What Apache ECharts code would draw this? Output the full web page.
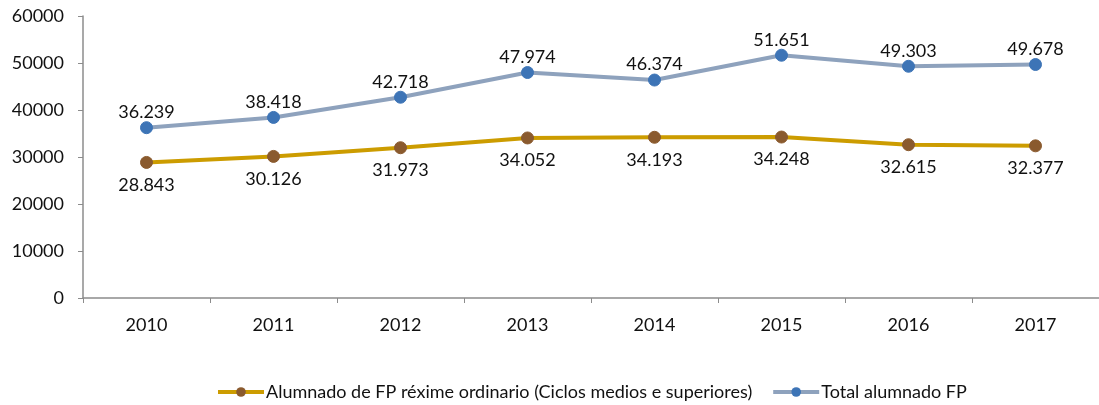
<!DOCTYPE html>
<html>
<head>
<meta charset="utf-8">
<script src="https://cdn.jsdelivr.net/npm/echarts@6/dist/echarts.min.js"></script>
<style>
  html, body { margin: 0; padding: 0; background: #fff; }
  #chart { width: 1099px; height: 405px; }
</style>
</head>
<body>
<div id="chart"></div>
<script>
// datos
const years = ['2010', '2011', '2012', '2013', '2014', '2015', '2016', '2017']
const ordinario = [28843, 30126, 31973, 34052, 34193, 34248, 32615, 32377]
const total = [36239, 38418, 42718, 47974, 46374, 51651, 49303, 49678]
const nameOrdinario = 'Alumnado de FP réxime ordinario (Ciclos medios e superiores)'
const nameTotal = 'Total alumnado FP'

const font = 'Lato, "Open Sans", sans-serif'
const axisColor = '#8c8c8c'

// 36239 -> "36.239"
function fmt(v) {
  return String(v).replace(/\B(?=(\d{3})+(?!\d))/g, '.')
}

const chart = echarts.init(document.getElementById('chart'))
chart.setOption({
  animation: false,
  textStyle: { fontFamily: font },
  legend: {
    data: [nameOrdinario, nameTotal],
    bottom: -1,
    left: 211,
    itemWidth: 46,
    itemHeight: 12,
    itemGap: 19,
    lineStyle: { width: 4 },
    textStyle: { fontSize: 18, color: '#111', fontFamily: font, padding: [0, 0, 0, -3] }
  },
  grid: {
    left: 83,
    top: 16,
    width: 1018,
    bottom: 107
  },
  xAxis: {
    type: 'category',
    data: years,
    boundaryGap: true,
    axisLine: { lineStyle: { color: axisColor, width: 1.5 } },
    axisTick: { show: true, alignWithLabel: false, length: 5, lineStyle: { color: axisColor } },
    axisLabel: { fontSize: 18, color: '#111', margin: 18, fontFamily: font }
  },
  yAxis: {
    type: 'value',
    min: 0,
    max: 60000,
    interval: 10000,
    axisLine: { show: true, lineStyle: { color: axisColor, width: 1.5 } },
    axisTick: { show: true, length: 5, lineStyle: { color: axisColor } },
    splitLine: { show: false },
    axisLabel: { fontSize: 18, color: '#111', margin: 19, fontFamily: font, formatter: v => String(v) }
  },
  series: [
    {
      name: nameOrdinario,
      type: 'line',
      data: ordinario,
      symbol: 'circle',
      symbolSize: 12,
      lineStyle: { color: '#cc9c00', width: 4 },
      itemStyle: { color: '#8a5a2e', borderColor: '#8a5a2e' },
      label: {
        show: true,
        position: 'bottom',
        distance: 7,
        fontSize: 18,
        color: '#111',
        fontFamily: font,
        formatter: p => fmt(p.value)
      }
    },
    {
      name: nameTotal,
      type: 'line',
      data: total,
      symbol: 'circle',
      symbolSize: 12,
      lineStyle: { color: '#8ea2bd', width: 4 },
      itemStyle: { color: '#3d74b6', borderColor: '#3d74b6' },
      label: {
        show: true,
        position: 'top',
        distance: 0,
        fontSize: 18,
        color: '#111',
        fontFamily: font,
        formatter: p => fmt(p.value)
      }
    }
  ]
})
</script>
</body>
</html>
